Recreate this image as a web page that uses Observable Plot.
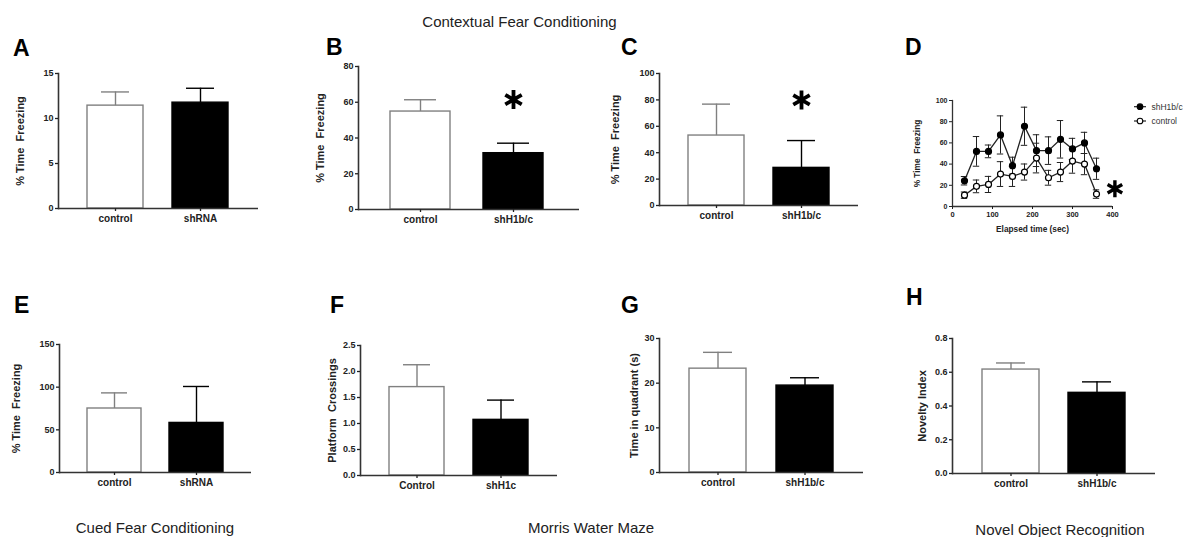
<!DOCTYPE html>
<html>
<head>
<meta charset="utf-8">
<script src="https://cdn.jsdelivr.net/npm/d3@7"></script>
<script src="https://cdn.jsdelivr.net/npm/@observablehq/plot@0.6"></script>
<style>
  body { margin: 0; background: #fff; }
  #fig { position: relative; width: 1191px; height: 537px; overflow: hidden; background: #fff;
         font-family: "Liberation Sans", Arial, sans-serif; }
  #fig svg.plot-panel { position: absolute; }
  #overlay { position: absolute; left: 0; top: 0; pointer-events: none; }
</style>
</head>
<body>
<div id="fig"></div>
<script>
// ================= DATA =================
const catsA = ["control", "shRNA"];
const meanA = [11.43, 11.76];
const semA  = [1.52, 1.60];

const catsB = ["control", "shH1b/c"];
const meanB = [54.8, 31.5];
const semB  = [6.6, 5.6];
const starB = [{c: "shH1b/c", y: 61.5}];

const catsC = ["control", "shH1b/c"];
const meanC = [53.0, 28.5];
const semC  = [23.8, 20.7];
const starC = [{c: "shH1b/c", y: 80}];

const timeD   = [30, 60, 90, 120, 150, 180, 210, 240, 270, 300, 330, 360];
const shD     = [24.3, 52.0, 52.0, 67.5, 38.5, 75.7, 52.7, 52.7, 63.4, 54.3, 60.0, 35.6];
const shSemD  = [4.0, 14.0, 6.0, 18.0, 8.0, 18.0, 15.0, 13.0, 17.7, 10.0, 10.0, 10.0];
const ctlD    = [10.7, 19.0, 20.8, 30.6, 28.4, 32.5, 45.7, 27.1, 32.5, 42.9, 40.0, 11.7];
const ctlSemD = [3.0, 6.0, 7.6, 11.7, 9.5, 7.6, 14.0, 7.0, 9.0, 11.5, 10.0, 4.0];
const seriesD = ["shH1b/c", "control"];
const starD   = [{t: 406, y: 16.7}];

const catsE = ["control", "shRNA"];
const meanE = [75.0, 58.1];
const semE  = [18.3, 42.7];

const catsF = ["Control", "shH1c"];
const meanF = [1.70, 1.07];
const semF  = [0.43, 0.38];

const catsG = ["control", "shH1b/c"];
const meanG = [23.25, 19.46];
const semG  = [3.65, 1.75];

const catsH = ["control", "shH1b/c"];
const meanH = [0.616, 0.478];
const semH  = [0.039, 0.065];

const ticksA = [0, 5, 10, 15];
const ticksB = [0, 20, 40, 60, 80];
const ticksC = [0, 20, 40, 60, 80, 100];
const ticksDy = [0, 20, 40, 60, 80, 100];
const ticksDx = [0, 100, 200, 300, 400];
const ticksE = [0, 50, 100, 150];
const ticksF = [0, 0.5, 1.0, 1.5, 2.0, 2.5];
const ticksG = [0, 10, 20, 30];
const ticksH = [0, 0.2, 0.4, 0.6, 0.8];

const yLabelFreeze = "% Time  Freezing";
const yLabelF = "Platform  Crossings";
const yLabelG = "Time in quadrant (s)";
const yLabelH = "Novelty Index";
const xLabelD = "Elapsed time (sec)";

const panelLetters = ["A", "B", "C", "D", "E", "F", "G", "H"];
const sectionTitles = ["Contextual Fear Conditioning", "Cued Fear Conditioning", "Morris Water Maze", "Novel Object Recognition"];

// ================= STYLE / LAYOUT =================
const FONT = '"Liberation Sans", Arial, sans-serif';
const INK = "#222";
const AXIS = "#333";
const BAR_FILL = ["#ffffff", "#000000"];
const BAR_STROKE = ["#808080", "#000000"];

const fig = document.getElementById("fig");

function place(svg, left, top) {
  svg.classList.add("plot-panel");
  svg.style.left = left + "px";
  svg.style.top = top + "px";
  fig.appendChild(svg);
}

function setLabelSize(svg, labels, size) {
  svg.querySelectorAll("text").forEach(t => {
    if (labels.includes(t.textContent)) t.setAttribute("font-size", size);
  });
}

function barPanel({cats, mean, sem, frame, domain, ticks, fmt, label, labelOffset, padding = 0.34, align = 0.5, star}) {
  const [fx0, fy0, fx1, fy1] = frame;
  const mL = 62, mR = 16, mT = 22, mB = 30;
  const data = cats.map((c, i) => ({c, m: mean[i], hi: mean[i] + sem[i], i}));
  const marks = [
    Plot.barY(data, {x: "c", y: "m", fill: d => BAR_FILL[d.i], stroke: d => BAR_STROKE[d.i], strokeWidth: 1.4}),
    Plot.ruleX(data, {x: "c", y1: "m", y2: "hi", stroke: d => BAR_STROKE[d.i], strokeWidth: 1.4}),
    Plot.tickY(data, {x: "c", y: "hi", stroke: d => BAR_STROKE[d.i], strokeWidth: 1.4, insetLeft: 14, insetRight: 14}),
    Plot.ruleY([0], {stroke: AXIS, strokeWidth: 1.6}),
    Plot.frame({anchor: "left", stroke: AXIS, strokeWidth: 1.6}),
    Plot.axisY({ticks, tickFormat: fmt, tickSize: 3, tickPadding: 2, fontSize: 9, strokeWidth: 1.3,
                label, labelAnchor: "center", labelOffset, labelArrow: "none"}),
    Plot.axisX({tickSize: 3, tickPadding: 3, fontSize: 10, strokeWidth: 1.3, label: null})
  ];
  if (star) marks.push(Plot.dot(star, {x: "c", y: "y", symbol: "asterisk", r: 9, stroke: "#000", strokeWidth: 3.8}));
  const svg = Plot.plot({
    width: fx1 - fx0 + mL + mR, height: fy1 - fy0 + mT + mB,
    marginLeft: mL, marginRight: mR, marginTop: mT, marginBottom: mB,
    x: {domain: cats, padding, align},
    y: {domain},
    color: {type: "identity"},
    style: {fontFamily: FONT, fontWeight: "bold", color: INK, background: "transparent", maxWidth: "none", overflow: "visible"},
    marks
  });
  setLabelSize(svg, [label], 11);
  place(svg, fx0 - mL, fy0 - mT);
}

barPanel({cats: catsA, mean: meanA, sem: semA, frame: [58, 73, 258, 208], domain: [0, 15], ticks: ticksA,
          fmt: d3.format("d"), label: yLabelFreeze, labelOffset: 42});
barPanel({cats: catsB, mean: meanB, sem: semB, frame: [358, 66, 579, 209], domain: [0, 80], ticks: ticksB,
          fmt: d3.format("d"), label: yLabelFreeze, labelOffset: 42, padding: 0.36, align: 0.46, star: starB});
barPanel({cats: catsC, mean: meanC, sem: semC, frame: [659, 73, 858, 205], domain: [0, 100], ticks: ticksC,
          fmt: d3.format("d"), label: yLabelFreeze, labelOffset: 48, star: starC});
barPanel({cats: catsE, mean: meanE, sem: semE, frame: [59, 344, 251, 472], domain: [0, 150], ticks: ticksE,
          fmt: d3.format("d"), label: yLabelFreeze, labelOffset: 47});
barPanel({cats: catsF, mean: meanF, sem: semF, frame: [360, 345, 557, 475], domain: [0, 2.5], ticks: ticksF,
          fmt: d3.format(".1f"), label: yLabelF, labelOffset: 32});
barPanel({cats: catsG, mean: meanG, sem: semG, frame: [659, 338, 863, 472], domain: [0, 30], ticks: ticksG,
          fmt: d3.format("d"), label: yLabelG, labelOffset: 29});
barPanel({cats: catsH, mean: meanH, sem: semH, frame: [952, 338, 1155, 473], domain: [0, 0.8], ticks: ticksH,
          fmt: d3.format(".1f"), label: yLabelH, labelOffset: 34});

// ---- Panel D: time course ----
(function () {
  const [fx0, fy0, fx1, fy1] = [952, 100, 1112, 206];
  const mL = 50, mR = 20, mT = 12, mB = 34;
  const rows = [];
  timeD.forEach((t, i) => {
    rows.push({t, g: seriesD[0], m: shD[i], lo: shD[i] - shSemD[i], hi: shD[i] + shSemD[i], k: 0});
    rows.push({t, g: seriesD[1], m: ctlD[i], lo: ctlD[i] - ctlSemD[i], hi: ctlD[i] + ctlSemD[i], k: 1});
  });
  const cap = 8;
  const svg = Plot.plot({
    width: fx1 - fx0 + mL + mR, height: fy1 - fy0 + mT + mB,
    marginLeft: mL, marginRight: mR, marginTop: mT, marginBottom: mB,
    x: {domain: [0, 400]},
    y: {domain: [0, 100]},
    style: {fontFamily: FONT, fontWeight: "bold", color: INK, background: "transparent", maxWidth: "none", overflow: "visible"},
    marks: [
      Plot.ruleX(rows, {x: "t", y1: "lo", y2: "hi", stroke: "#222", strokeWidth: 1}),
      Plot.ruleY(rows, {y: "hi", x1: d => d.t - cap, x2: d => d.t + cap, stroke: "#222", strokeWidth: 1}),
      Plot.ruleY(rows, {y: "lo", x1: d => d.t - cap, x2: d => d.t + cap, stroke: "#222", strokeWidth: 1}),
      Plot.line(rows, {x: "t", y: "m", z: "g", stroke: "#222", strokeWidth: 1.3}),
      Plot.dot(rows, {x: "t", y: "m", r: 3, fill: d => d.k === 0 ? "#000" : "#fff", stroke: "#000", strokeWidth: 1.2}),
      Plot.ruleY([0], {stroke: AXIS, strokeWidth: 1.3}),
      Plot.frame({anchor: "left", stroke: AXIS, strokeWidth: 1.3}),
      Plot.axisY({ticks: ticksDy, tickSize: 3, tickPadding: 2, fontSize: 7, strokeWidth: 1,
                  label: yLabelFreeze, labelAnchor: "center", labelOffset: 38, labelArrow: "none"}),
      Plot.axisX({ticks: ticksDx, tickSize: 3, tickPadding: 2, fontSize: 7.5, strokeWidth: 1,
                  label: xLabelD, labelAnchor: "center", labelOffset: 25, labelArrow: "none"}),
      Plot.dot(starD, {x: "t", y: "y", symbol: "asterisk", r: 8, stroke: "#000", strokeWidth: 3.4})
    ]
  });
  setLabelSize(svg, [xLabelD, yLabelFreeze], 8.3);
  place(svg, fx0 - mL, fy0 - mT);
})();

// ---- Overlay: panel letters, section titles, legend for D ----
const NS = "http://www.w3.org/2000/svg";
const ov = document.createElementNS(NS, "svg");
ov.setAttribute("id", "overlay");
ov.setAttribute("width", 1191);
ov.setAttribute("height", 537);
ov.setAttribute("font-family", FONT);
function addText(str, x, y, attrs) {
  const t = document.createElementNS(NS, "text");
  t.setAttribute("x", x); t.setAttribute("y", y);
  for (const k in attrs) t.setAttribute(k, attrs[k]);
  t.textContent = str;
  ov.appendChild(t);
  return t;
}
const letterPos = [[13, 56], [326, 55], [621, 55], [905, 55], [14, 313], [330, 312.5], [621, 312.5], [906, 305]];
panelLetters.forEach((L, i) => addText(L, letterPos[i][0], letterPos[i][1], {"font-size": 23, "font-weight": "bold", fill: "#000"}));
const titlePos = [[519.5, 26.7], [155, 533.3], [591, 533.3], [1060, 535]];
sectionTitles.forEach((s, i) => addText(s, titlePos[i][0], titlePos[i][1], {"font-size": 15, fill: "#222", "text-anchor": "middle"}));

// legend for panel D
const legendRows = [[seriesD[0], 106.7, "#000"], [seriesD[1], 121, "#fff"]];
legendRows.forEach(([name, y, fill]) => {
  const ln = document.createElementNS(NS, "line");
  ln.setAttribute("x1", 1134); ln.setAttribute("x2", 1146); ln.setAttribute("y1", y); ln.setAttribute("y2", y);
  ln.setAttribute("stroke", "#222"); ln.setAttribute("stroke-width", 1.2);
  ov.appendChild(ln);
  const c = document.createElementNS(NS, "circle");
  c.setAttribute("cx", 1140); c.setAttribute("cy", y); c.setAttribute("r", 2.8);
  c.setAttribute("fill", fill); c.setAttribute("stroke", "#000"); c.setAttribute("stroke-width", 1.1);
  ov.appendChild(c);
  addText(name, 1151.5, y + 3, {"font-size": 8.5, fill: "#333"});
});
fig.appendChild(ov);
</script>
</body>
</html>
